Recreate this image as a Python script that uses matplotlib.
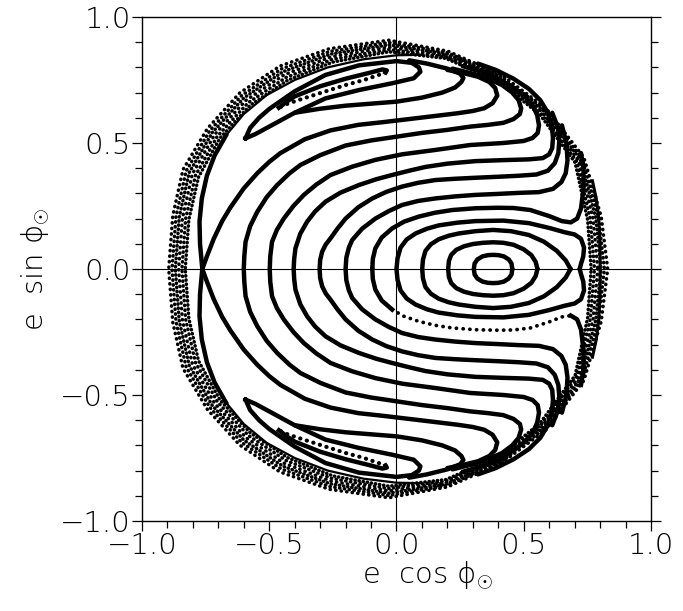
import numpy as np
import matplotlib
matplotlib.use('Agg')
import matplotlib.pyplot as plt

plt.rcParams['font.family'] = ['DejaVu Sans']
plt.rcParams['mathtext.fontset'] = 'custom'
plt.rcParams['mathtext.rm'] = 'DejaVu Sans:light'
plt.rcParams['mathtext.it'] = 'DejaVu Sans:light:italic'

# digitised upper halves (e cos phi, e sin phi); the lower half is the mirror image
e1_x = [0.304, 0.307, 0.318, 0.338, 0.36, 0.38, 0.4, 0.422, 0.441, 0.452, 0.455]
e1_y = [0.0, 0.022, 0.038, 0.05, 0.055, 0.056, 0.055, 0.05, 0.038, 0.022, 0.0]
e2_x = [0.203, 0.206, 0.215, 0.235, 0.265, 0.3, 0.34, 0.38, 0.42, 0.46, 0.5, 0.53, 0.547, 0.554]
e2_y = [0.0, 0.032, 0.056, 0.076, 0.09, 0.099, 0.104, 0.106, 0.104, 0.096, 0.078, 0.055, 0.028, 0.0]
e3_x = [0.101, 0.104, 0.114, 0.135, 0.166, 0.205, 0.245, 0.31, 0.38, 0.45, 0.52, 0.58, 0.63, 0.665, 0.684]
e3_y = [0.0, 0.037, 0.072, 0.098, 0.118, 0.132, 0.141, 0.15, 0.155, 0.15, 0.135, 0.108, 0.072, 0.034, 0.0]
# outermost closed loop round the centre, with the dent at its right end
c0_x = [0.0, 0.004, 0.016, 0.04, 0.075, 0.12, 0.166, 0.24, 0.31, 0.42, 0.52, 0.6, 0.66, 0.7, 0.725,
        0.737, 0.734, 0.725, 0.72]
c0_y = [0.0, 0.042, 0.085, 0.117, 0.141, 0.16, 0.173, 0.184, 0.19, 0.192, 0.182, 0.163, 0.146, 0.137,
        0.12, 0.085, 0.05, 0.02, 0.0]

# curves wrapping round the upper island, from their crossing of the axis to the chaotic zone
c1_x = [-0.095, -0.093, -0.083, -0.058, -0.017, 0.03, 0.088, 0.15, 0.219, 0.31, 0.4, 0.46, 0.526,
        0.6, 0.65, 0.685, 0.71, 0.725, 0.735, 0.735, 0.725]
c1_y = [0.0, 0.04, 0.082, 0.125, 0.161, 0.188, 0.208, 0.223, 0.234, 0.241, 0.243, 0.242, 0.234,
        0.21, 0.19, 0.185, 0.2, 0.24, 0.32, 0.4, 0.46]
c2_x = [-0.2, -0.197, -0.187, -0.174, -0.135, -0.083, -0.03, 0.022, 0.085, 0.153, 0.23, 0.31, 0.4,
        0.48, 0.56, 0.615, 0.648, 0.665, 0.672, 0.668, 0.65]
c2_y = [0.0, 0.045, 0.085, 0.115, 0.16, 0.2, 0.23, 0.254, 0.27, 0.28, 0.288, 0.294, 0.298, 0.302,
        0.305, 0.318, 0.345, 0.38, 0.43, 0.5, 0.57]
c3_x = [-0.302, -0.3, -0.292, -0.278, -0.259, -0.232, -0.2, -0.15, -0.095, -0.04, 0.022, 0.085,
        0.153, 0.23, 0.31, 0.4, 0.48, 0.55, 0.595, 0.622, 0.636, 0.64, 0.633, 0.612]
c3_y = [0.0, 0.035, 0.069, 0.097, 0.122, 0.16, 0.2, 0.245, 0.28, 0.306, 0.327, 0.342, 0.353, 0.358,
        0.362, 0.366, 0.37, 0.375, 0.39, 0.42, 0.46, 0.51, 0.565, 0.62]
c4_x = [-0.404, -0.402, -0.397, -0.378, -0.351, -0.32, -0.279, -0.22, -0.148, -0.08, -0.017, 0.05,
        0.114, 0.2, 0.31, 0.42, 0.52, 0.575, 0.6, 0.612, 0.615, 0.61, 0.595, 0.565, 0.52, 0.46,
        0.39, 0.32]
c4_y = [0.0, 0.04, 0.082, 0.14, 0.188, 0.228, 0.267, 0.303, 0.333, 0.356, 0.373, 0.39,
        0.405, 0.418, 0.428, 0.432, 0.435, 0.44, 0.455, 0.48, 0.52, 0.57, 0.62, 0.67, 0.715, 0.755,
        0.79, 0.815]
c5_x = [-0.498, -0.496, -0.489, -0.47, -0.443, -0.405, -0.364, -0.315, -0.259, -0.174, -0.083,
        0.022, 0.15, 0.29, 0.42, 0.5, 0.535, 0.555, 0.56, 0.553, 0.535, 0.505, 0.46, 0.4, 0.33,
        0.26]
c5_y = [0.0, 0.05, 0.108, 0.155, 0.2, 0.25, 0.294, 0.335, 0.373, 0.406, 0.433, 0.455, 0.472,
        0.492, 0.5, 0.508, 0.52, 0.54, 0.57, 0.61, 0.65, 0.685, 0.72, 0.755, 0.785, 0.805]
c6_x = [-0.6, -0.598, -0.593, -0.575, -0.547, -0.51, -0.469, -0.42, -0.377, -0.299, -0.2, -0.1,
        0.0, 0.1, 0.2, 0.29, 0.36, 0.42, 0.46, 0.485, 0.49, 0.48, 0.455, 0.415, 0.36, 0.3, 0.22]
c6_y = [0.0, 0.05, 0.108, 0.17, 0.227, 0.285, 0.333, 0.38, 0.413, 0.452, 0.49, 0.51,
        0.525, 0.54, 0.552, 0.565, 0.572, 0.58, 0.595, 0.615, 0.637, 0.67, 0.7, 0.73, 0.755,
        0.775, 0.795]
# separatrix through the hyperbolic point near (-0.76, 0): inner and outer branches
s1_x = [-0.763, -0.745, -0.718, -0.685, -0.652, -0.6, -0.547, -0.5, -0.456, -0.36, -0.259, -0.15,
        -0.05, 0.05, 0.15, 0.24, 0.3, 0.345, 0.378, 0.396, 0.388, 0.365, 0.32, 0.26, 0.2]
s1_y = [0.0, 0.05, 0.12, 0.19, 0.245, 0.32, 0.38, 0.425, 0.46, 0.515, 0.55, 0.572,
        0.583, 0.595, 0.607, 0.618, 0.627, 0.638, 0.658, 0.688, 0.718, 0.742, 0.763, 0.778, 0.79]
s1o_x = [-0.763, -0.772, -0.774, -0.765, -0.745, -0.715, -0.67, -0.6, -0.51, -0.4, -0.27, -0.13,
         0.0, 0.1]
s1o_y = [0.0, 0.1, 0.188, 0.28, 0.37, 0.45, 0.53, 0.615, 0.69, 0.75, 0.8, 0.832, 0.848, 0.85]

# tongue just outside the outer island curve, and the two island curves
l1_x = [-0.4, -0.3, -0.2, -0.1, 0.0, 0.1, 0.18, 0.23, 0.255, 0.263, 0.25, 0.2, 0.12, 0.05]
l1_y = [0.62, 0.636, 0.648, 0.656, 0.664, 0.68, 0.7, 0.72, 0.742, 0.758, 0.775, 0.795, 0.815, 0.828]
ob_x = [-0.593, -0.575, -0.54, -0.5, -0.4, -0.279, -0.148, 0.0, 0.06, 0.088, 0.094, 0.068, -0.017,
        -0.148, -0.279, -0.4, -0.5, -0.555, -0.585, -0.593]
ob_y = [0.519, 0.56, 0.6, 0.635, 0.705, 0.77, 0.808, 0.825, 0.818, 0.8, 0.783, 0.757, 0.737,
        0.71, 0.677, 0.62, 0.565, 0.535, 0.522, 0.519]
ib_top_x = [-0.462, -0.43, -0.4, -0.3, -0.2, -0.1, -0.055, -0.038, -0.043]
ib_top_y = [0.64, 0.665, 0.685, 0.725, 0.755, 0.78, 0.792, 0.788, 0.78]
ib_bot_x = [-0.043, -0.07, -0.128, -0.2, -0.3, -0.38, -0.43, -0.462]
ib_bot_y = [0.78, 0.77, 0.75, 0.73, 0.698, 0.672, 0.655, 0.64]

o_x = [0.80, 0.80, 0.795, 0.785, 0.77]
o_y = [0.0, 0.1, 0.2, 0.28, 0.35]

# chaotic zone: inner / outer radius about (-0.03, 0) against polar angle
band_cx = -0.03
band_theta = [0, 14, 30, 46, 60, 75, 90, 105, 118, 130, 142, 154, 166, 180]
band_r_in = [0.795, 0.805, 0.845, 0.853, 0.86, 0.865, 0.862, 0.85, 0.848, 0.848, 0.843, 0.832, 0.81, 0.80]
band_r_out = [0.86, 0.86, 0.885, 0.888, 0.888, 0.895, 0.908, 0.905, 0.912, 0.912, 0.905, 0.9, 0.875, 0.865]


def both_halves(xs, ys):
    # lower half (reversed) followed by the upper half, joined on the axis
    xs = list(xs)
    ys = list(ys)
    return xs[::-1] + xs, [-v for v in ys[::-1]] + ys


fig = plt.figure(figsize=(6.83, 6.11), dpi=100)
ax = fig.add_axes([0.2079, 0.1473, 0.7452, 0.8249])

lw = 3.2
dots = dict(dash_capstyle='round', color='black')

for xs, ys in [(e1_x, e1_y), (e2_x, e2_y), (e3_x, e3_y), (c0_x, c0_y), (c2_x, c2_y),
               (c3_x, c3_y), (c4_x, c4_y), (c5_x, c5_y), (c6_x, c6_y), (s1_x, s1_y)]:
    mx, my = both_halves(xs, ys)
    ax.plot(mx, my, color='black', lw=lw, solid_capstyle='round', zorder=3)

# C1: solid above the axis; below it the middle stretch is only sparsely sampled
ax.plot(c1_x, c1_y, color='black', lw=lw, solid_capstyle='round', zorder=3)
ax.plot(c1_x[:5], [-v for v in c1_y[:5]], color='black', lw=lw, zorder=3)
ax.plot(c1_x[4:16], [-v for v in c1_y[4:16]], lw=2.7, ls=(0, (0.05, 1.75)), zorder=3, **dots)
ax.plot(c1_x[15:], [-v for v in c1_y[15:]], color='black', lw=lw, zorder=3)

mo_x, mo_y = both_halves(o_x, o_y)
ax.plot(mo_x, mo_y, color='black', lw=2.2, zorder=3)
mo_x, mo_y = both_halves(s1o_x[:7], s1o_y[:7])
ax.plot(mo_x, mo_y, color='black', lw=lw, zorder=3)
for sgn in (1, -1):
    ax.plot(s1o_x[6:], [sgn * v for v in s1o_y[6:]], color='black', lw=1.6, zorder=3)
    ax.plot(l1_x, [sgn * v for v in l1_y], color='black', lw=lw, solid_capstyle='round', zorder=3)
    ax.plot(ob_x, [sgn * v for v in ob_y], color='black', lw=lw, zorder=3)
    ax.plot(ib_top_x, [sgn * v for v in ib_top_y], color='black', lw=lw, zorder=3)
    ax.plot(ib_bot_x, [sgn * v for v in ib_bot_y], lw=3.0, ls=(0, (0.05, 1.6)), zorder=3, **dots)

# chaotic band drawn as staggered rows of dots
th = np.radians(band_theta + [360 - t for t in band_theta[::-1]])
r_in = np.array(band_r_in + band_r_in[::-1])
r_out = np.array(band_r_out + band_r_out[::-1])
for k, t in enumerate([0.0, 0.2, 0.4, 0.6, 0.8, 1.0]):
    r = r_in + t * (r_out - r_in)
    bx = band_cx + r * np.cos(th)
    by = r * np.sin(th)
    ax.plot(bx, by, lw=2.5, ls=(0.6 * k, (0.1, 1.1 + 0.2 * (k % 3))), dash_capstyle='round',
            color='black', zorder=2)

ax.axhline(0, color='black', lw=0.8, zorder=1)
ax.axvline(0, color='black', lw=0.8, zorder=1)

ax.set_xlim(-1, 1)
ax.set_ylim(-1, 1)
ticks = [-1.0, -0.5, 0.0, 0.5, 1.0]
ax.set_xticks(ticks)
ax.set_yticks(ticks)
ax.set_xticks(np.arange(-1, 1.01, 0.1), minor=True)
ax.set_yticks(np.arange(-1, 1.01, 0.1), minor=True)
labels = ['\u22121.0', '\u22120.5', '0.0', '0.5', '1.0']
ax.set_xticklabels(labels, fontweight='light')
ax.set_yticklabels(labels, fontweight='light')
ax.tick_params(which='both', direction='out', width=0.9, labelsize=21, pad=1,
               right=True, top=False)
ax.tick_params(which='major', length=7)
ax.tick_params(which='minor', length=5)
for sp in ax.spines.values():
    sp.set_linewidth(1.0)

ax.set_xlabel('e  cos $\\mathrm{\\phi}_{\\odot}$', fontsize=21, fontweight='light')
ax.xaxis.set_label_coords(0.56, -0.075)
ax.set_ylabel('e  sin $\\mathrm{\\phi}_{\\odot}$', fontsize=21, fontweight='light', labelpad=6)

fig.savefig('out.png', dpi=100)
